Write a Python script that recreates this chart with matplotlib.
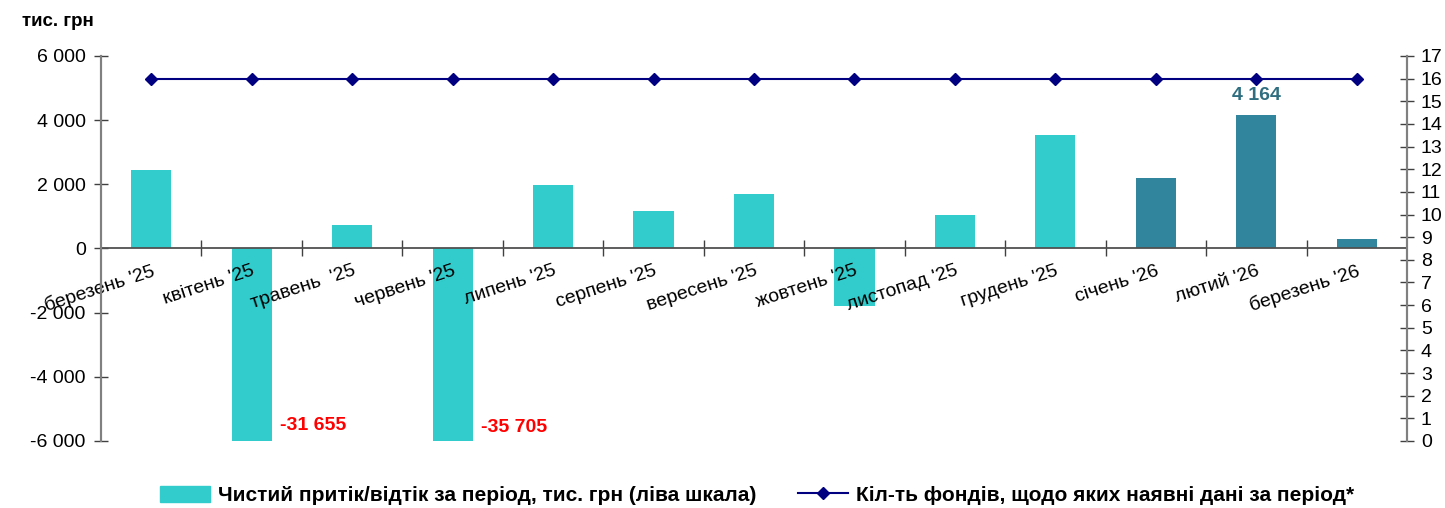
import matplotlib
matplotlib.use('Agg')
from matplotlib import pyplot as plt
from matplotlib.ticker import FuncFormatter, FixedLocator
from matplotlib.patches import Patch
from matplotlib.lines import Line2D

plt.rcParams['font.family'] = ['Liberation Sans', 'DejaVu Sans']

# Дані
months = ["березень '25", "квітень '25", "травень  '25", "червень '25", "липень '25",
          "серпень '25", "вересень '25", "жовтень '25", "листопад '25", "грудень '25",
          "січень '26", "лютий '26", "березень '26"]
flows = [2440, -31655, 730, -35705, 1980, 1170, 1690, -1800, 1050, 3530, 2190, 4164, 310]
funds = [16, 16, 16, 16, 16, 16, 16, 16, 16, 16, 16, 16, 16]
# останні три місяці - темніший колір
bar_colors = ['#33CCCC'] * 10 + ['#31859C'] * 3

fig = plt.figure(figsize=(14.45, 5.08), dpi=100)
ax = fig.add_axes([0.0699, 0.1319, 0.9038, 0.7579])
ax2 = ax.twinx()

x = list(range(len(months)))
ax.bar(x, flows, width=0.4, color=bar_colors, zorder=2)
ax2.plot(x, funds, color='#000080', marker='D', markersize=6, lw=1.5)

ax.set_xlim(-0.5, len(months) - 0.5)
ax.set_ylim(-6000, 6000)
ax2.set_ylim(0, 17)
ax.set_axisbelow(False)  # підписи місяців поверх стовпців

# ліва шкала
ax.set_yticks(range(-6000, 6001, 2000))
ax.yaxis.set_major_formatter(FuncFormatter(lambda v, p: f'{int(v):,}'.replace(',', ' ')))
ax.tick_params(axis='y', direction='inout', length=10, width=1, labelsize=14, pad=6, color='#404040')

# права шкала
ax2.set_yticks(range(0, 18))
ax2.tick_params(axis='y', direction='inout', length=10, width=1, labelsize=14, pad=5, color='#404040')

for a in (ax, ax2):
    a.spines['top'].set_visible(False)
    a.spines['left'].set_color('#808080')
    a.spines['right'].set_color('#808080')
    a.spines['left'].set_linewidth(1.5)
    a.spines['right'].set_linewidth(1.5)
ax2.spines['bottom'].set_visible(False)

# вісь категорій по нулю
ax.spines['bottom'].set_position(('data', 0))
ax.spines['bottom'].set_color('#505050')
ax.spines['bottom'].set_linewidth(1.3)
ax.spines['bottom'].set_zorder(3)
ax.set_xticks(x)
ax.set_xticklabels(months, rotation=18, ha='right', rotation_mode='anchor', fontsize=14)
ax.xaxis.set_minor_locator(FixedLocator([i + 0.5 for i in x[:-1]]))
ax.tick_params(axis='x', which='major', length=0, pad=10)
ax.tick_params(axis='x', which='minor', direction='inout', length=12, width=1, color='#404040')

ax.set_zorder(ax2.get_zorder() - 1)
ax2.patch.set_visible(False)

# підписи значень
ax.text(1.28, -5530, '-31 655', color='#FF0000', fontsize=14, fontweight='bold', ha='left', va='center')
ax.text(3.28, -5590, '-35 705', color='#FF0000', fontsize=14, fontweight='bold', ha='left', va='center')
ax.text(11, 4780, '4 164', color='#2E6E80', fontsize=14, fontweight='bold', ha='center', va='center')

fig.text(0.015, 0.957, 'тис. грн', fontsize=13.5, fontweight='bold', va='center')

# легенда
handles = [Patch(color='#33CCCC'),
           Line2D([0], [0], color='#000080', marker='D', markersize=6, lw=1.5)]
labels = ['Чистий притік/відтік за період, тис. грн (ліва шкала)',
          'Кіл-ть фондів, щодо яких наявні дані за період*']
fig.legend(handles, labels, loc='center', bbox_to_anchor=(0.524, 0.025), ncol=2,
           frameon=False, handlelength=2.4, handleheight=0.8, handletextpad=0.4,
           columnspacing=2.0, prop={'weight': 'bold', 'size': 15})

fig.savefig('out.png', dpi=100)
